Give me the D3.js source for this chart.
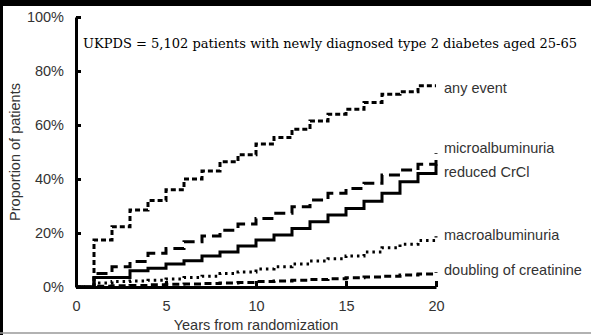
<!DOCTYPE html>
<html>
<head>
<meta charset="utf-8">
<script src="https://cdn.jsdelivr.net/npm/d3@7"></script>
<style>
  body { margin: 0; background: #fff; }
  svg { display: block; }
  .tick text, .lbl { font-family: "Liberation Sans", Arial, sans-serif; font-size: 14.5px; fill: #333; }
</style>
</head>
<body>
<div id="chart"></div>
<script>
// years since randomization (step points)
const years = [0, 1, 2, 3, 4, 5, 6, 7, 8, 9, 10, 11, 12, 13, 14, 15, 16, 17, 18, 19, 20];

// cumulative % of patients
const anyEvent     = [0, 17.4, 22.3, 28.5, 32, 36, 40, 43, 46.4, 49, 53, 55.4, 58.4, 61.5, 64, 65.8, 68.3, 71.4, 72.3, 74.5, 74.5];
const microalb     = [0, 5, 7.5, 9.4, 12.5, 14.3, 16.8, 18.9, 21, 23.3, 25.4, 27.3, 29.7, 32.2, 34.7, 36.5, 38.4, 41.5, 43.3, 45.5, 49.5];
const reducedCrCl  = [0, 3.5, 3.5, 6, 6.9, 8.5, 9.7, 11.5, 13, 15.2, 17.4, 19.3, 21.7, 24.2, 26.7, 29.1, 31.8, 34.7, 39, 42, 45.5];
const macroalb     = [0, 1.5, 2, 2.2, 2.5, 3, 3.5, 4, 5, 5.6, 6.7, 7.5, 8.5, 9.6, 10.5, 11.5, 13, 14.5, 15.8, 17.2, 18.8];
const doubling     = [0, 0.3, 0.5, 0.6, 0.8, 1, 1.1, 1.3, 1.5, 1.7, 2, 2.2, 2.5, 2.8, 3.1, 3.4, 3.7, 4, 4.4, 4.8, 5.5];

const seriesNames  = ['any event', 'microalbuminuria', 'reduced CrCl', 'macroalbuminuria', 'doubling of creatinine'];
const seriesValues = [anyEvent, microalb, reducedCrCl, macroalb, doubling];
const labelAt      = [73.7, 51.5, 42.6, 19.3, 6.3];   // label height in %
const dashes       = ['5,3', '11,6', null, '2.5,4', '7,4'];

const xTicks = [0, 5, 10, 15, 20];
const yTicks = [0, 20, 40, 60, 80, 100];
const title = 'UKPDS = 5,102 patients with newly diagnosed type 2 diabetes aged 25-65';

const W = 591, H = 335;

const svg = d3.select('#chart').append('svg')
    .attr('width', W)
    .attr('height', H);

// picture frame
svg.append('rect').attr('x', 0).attr('y', 0).attr('width', W).attr('height', 6).attr('fill', '#000');
svg.append('rect').attr('x', 0).attr('y', 0).attr('width', 3).attr('height', H).attr('fill', '#000');
svg.append('line').attr('x1', 0).attr('x2', W).attr('y1', 333).attr('y2', 333)
    .attr('stroke', '#999').attr('stroke-width', 1.5);

const x = d3.scaleLinear().domain([0, 20]).range([76, 436]);
const y = d3.scaleLinear().domain([0, 100]).range([287, 17]);

const line = d3.line()
    .x((d, i) => x(years[i]))
    .y(d => y(d))
    .curve(d3.curveStepAfter);

seriesValues.forEach((vals, i) => {
    svg.append('path')
        .attr('d', line(vals))
        .attr('fill', 'none')
        .attr('stroke', '#000')
        .attr('stroke-width', 3)
        .attr('stroke-dasharray', dashes[i]);
});

// axes
const yAxis = svg.append('g')
    .attr('transform', `translate(${x(0)},0)`)
    .call(d3.axisLeft(y).tickValues(yTicks).tickSizeInner(-5).tickSizeOuter(0)
        .tickPadding(12).tickFormat(d => d + '%'));

const xAxis = svg.append('g')
    .attr('transform', `translate(0,${y(0)})`)
    .call(d3.axisBottom(x).tickValues(xTicks).tickSizeInner(-6).tickSizeOuter(0)
        .tickPadding(14));

[yAxis, xAxis].forEach(g => {
    g.selectAll('path, line').attr('stroke', '#000').attr('stroke-width', 3);
    g.selectAll('text').attr('fill', '#333').style('font-size', '14.5px')
        .style('font-family', '"Liberation Sans", Arial, sans-serif');
});

// series labels
svg.selectAll('text.series')
    .data(seriesNames)
    .enter()
    .append('text')
    .attr('class', 'lbl')
    .attr('x', x(20) + 8)
    .attr('y', (d, i) => y(labelAt[i]))
    .attr('dy', '0.35em')
    .text(d => d);

// titles
svg.append('text')
    .attr('x', 83)
    .attr('y', 48)
    .attr('textLength', 494)
    .attr('lengthAdjust', 'spacingAndGlyphs')
    .style('font-family', '"DejaVu Serif", serif')
    .style('font-size', '12.5px')
    .attr('fill', '#000')
    .text(title);

svg.append('text')
    .attr('class', 'lbl')
    .attr('x', 256)
    .attr('y', 330)
    .attr('text-anchor', 'middle')
    .text('Years from randomization');

svg.append('text')
    .attr('class', 'lbl')
    .attr('transform', 'translate(20,152) rotate(-90)')
    .attr('text-anchor', 'middle')
    .text('Proportion of patients');
</script>
</body>
</html>
